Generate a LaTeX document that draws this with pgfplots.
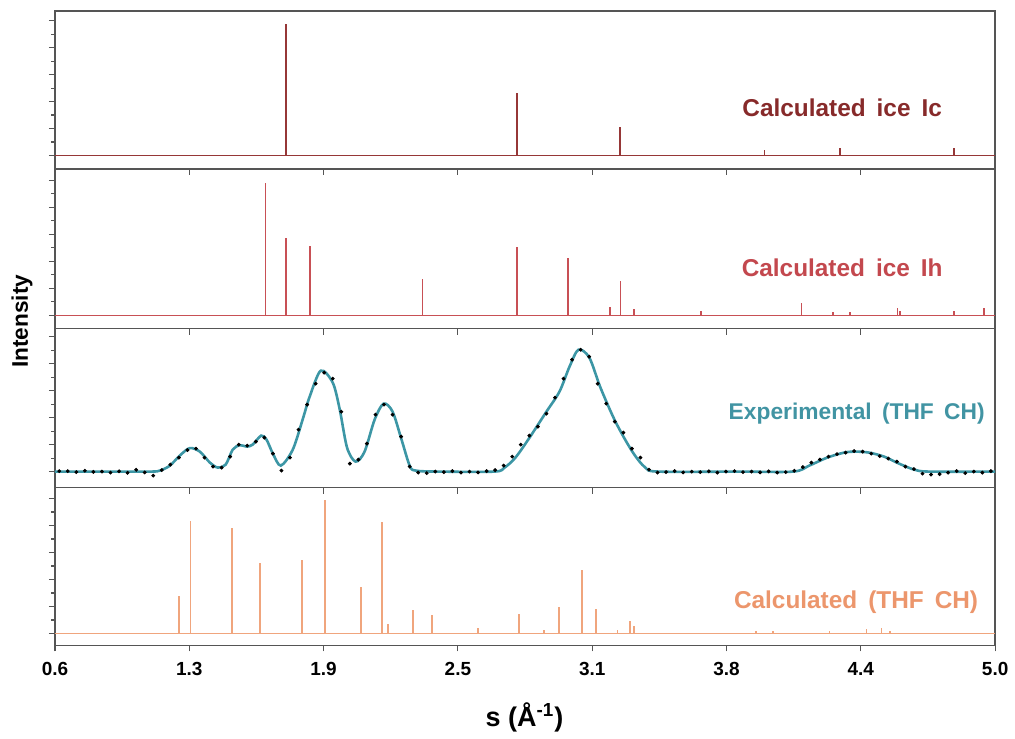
\documentclass[border=0pt]{standalone}
\usepackage{fontspec}
\setmainfont{Liberation Sans}
\usepackage{pgfplots}
\pgfplotsset{compat=1.18}
\definecolor{icline}{RGB}{150,55,55}
\definecolor{ictext}{RGB}{135,42,42}
\definecolor{ihline}{RGB}{200,80,85}
\definecolor{ihtext}{RGB}{195,72,78}
\definecolor{expline}{RGB}{60,150,165}
\definecolor{exptext}{RGB}{65,148,163}
\definecolor{calline}{RGB}{240,165,125}
\definecolor{caltext}{RGB}{236,150,108}
\definecolor{frame}{RGB}{85,85,85}
\newcommand\ws{\spaceskip=0.45em\relax}
\tikzset{lab/.style={font=\bfseries\fontsize{12.2}{13}\selectfont, anchor=center}}
\pgfplotsset{
  panel/.style={
    scale only axis, width=470.5pt, xmin=0.6, xmax=5.0,
    xtick={0.6,1.22857,1.85714,2.48571,3.11429,3.74286,4.37143,5.0},
    xticklabels={}, xtick pos=bottom, ytick pos=left, tick align=outside,
    ytick={0,27,54,81,108,135}, yticklabels={}, minor y tick num=1,
    major tick length=3pt, minor tick length=1.8pt,
    axis line style={draw=frame, line width=0.7pt},
    every tick/.append style={frame, line width=0.6pt},
    anchor=north west,
    /pgf/number format/assume math mode=true,
  },
}
\begin{document}
\begin{tikzpicture}
\path (-27.5pt,5.5pt) rectangle (480pt,-363.5pt);
% ---------- Panel 1: ice Ic
\begin{axis}[panel, at={(0pt,0pt)}, height=79pt, ymin=-13.3, ymax=144.7]
\addplot[icline, line width=0.6pt] coordinates {(0.6,0) (5.0,0)};
\addplot[icline, line width=0.9pt, ycomb, no marks] coordinates {
(1.682,131.7) (2.763,62.7) (3.246,29) (3.921,5.7) (4.275,7.7) (4.808,7.7)};
\node[lab, text=ictext] at (axis cs:4.284,47.7) {\ws Calculated ice Ic};
\end{axis}
% ---------- Panel 2: ice Ih
\begin{axis}[panel, at={(0pt,-79pt)}, height=80pt, ymin=-13.5, ymax=146.5]
\addplot[ihline, line width=0.6pt] coordinates {(0.6,0) (5.0,0)};
\addplot[ihline, line width=0.9pt, ycomb, no marks] coordinates {
(1.585,132.8) (1.683,76.8) (1.795,69.5) (2.320,36.2) (2.763,67.8) (3.002,57.2)
(3.196,8.2) (3.247,33.8) (3.310,6.2) (3.622,4.5) (4.094,12.2) (4.240,3.2)
(4.320,3.2) (4.543,7.2) (4.555,4) (4.807,3.8) (4.948,7.2)};
\node[lab, text=ihtext] at (axis cs:4.284,47.5) {\ws Calculated ice Ih};
\end{axis}
% ---------- Panel 3: experimental
\begin{axis}[panel, at={(0pt,-159pt)}, height=79.5pt, ymin=-16, ymax=143]
\addplot[expline, line width=1.3pt, smooth, tension=0.5] coordinates {
(0.600,0) (0.800,0) (1.044,0) (1.091,1) (1.138,6) (1.184,16) (1.231,23.5)
(1.278,20) (1.325,9) (1.362,4) (1.399,7) (1.432,22) (1.465,26.5) (1.497,25)
(1.525,27) (1.565,36) (1.590,32) (1.620,18) (1.657,6) (1.713,22) (1.759,52)
(1.792,75) (1.844,101) (1.900,89) (1.932,63) (1.967,24) (2.007,10) (2.049,20)
(2.096,52) (2.138,68) (2.180,60) (2.222,32) (2.260,6) (2.288,1) (2.400,0)
(2.657,0) (2.704,4) (2.755,14) (2.821,34) (2.900,60) (2.961,80) (3.008,105)
(3.050,122) (3.101,114) (3.153,84) (3.223,50) (3.302,20) (3.363,4) (3.424,0)
(3.800,0) (4.055,0) (4.130,6) (4.214,14) (4.293,19) (4.345,20) (4.410,19)
(4.480,15) (4.550,8) (4.621,2) (4.691,0) (5.000,0)};
\addplot[only marks, mark=*, mark size=0.75pt, black] coordinates {
(0.62,0.5) (0.66,0.5) (0.70,-0.5) (0.74,0.8) (0.78,-0.3) (0.82,0) (0.86,-1)
(0.90,0.3) (0.94,-1.2) (0.98,1.8) (1.02,-0.8) (1.06,-4) (1.10,1.5) (1.14,7)
(1.18,14) (1.22,21.5) (1.26,23) (1.30,14) (1.34,5) (1.38,4) (1.42,15)
(1.46,27) (1.50,26) (1.54,30) (1.58,34) (1.62,18) (1.66,1) (1.70,14)
(1.74,42) (1.78,67) (1.82,88) (1.86,99) (1.90,93) (1.94,60) (1.98,8)
(2.02,12) (2.06,28) (2.10,57) (2.14,67) (2.18,57) (2.22,35) (2.26,5)
(2.30,-1) (2.34,-1.5) (2.38,0) (2.42,-0.5) (2.46,0.5) (2.50,-1) (2.54,0)
(2.58,-0.8) (2.62,0.5) (2.66,1.5) (2.70,6) (2.74,15) (2.78,27) (2.82,36)
(2.86,45) (2.90,58) (2.94,74) (2.98,93) (3.02,112) (3.06,122) (3.10,115)
(3.14,88) (3.18,68) (3.22,50) (3.26,39) (3.30,23) (3.34,14) (3.38,2)
(3.42,-1) (3.46,-0.5) (3.50,0.5) (3.54,-0.8) (3.58,0) (3.62,-0.5) (3.66,0.3)
(3.70,-1) (3.74,0) (3.78,0.5) (3.82,-0.5) (3.86,0) (3.90,-0.8) (3.94,0.2)
(3.98,-1) (4.02,-0.5) (4.06,0.8) (4.10,4.5) (4.14,9) (4.18,12) (4.22,15)
(4.26,17.5) (4.30,19) (4.34,20.5) (4.38,20) (4.42,18) (4.46,15.5) (4.50,13)
(4.54,10) (4.58,5) (4.62,2.5) (4.66,-2) (4.70,-3) (4.74,-2.5) (4.78,-1)
(4.82,0.5) (4.86,-1.5) (4.90,0) (4.94,-1) (4.98,0.5)};
\node[lab, text=exptext, font=\bfseries\fontsize{11.4}{13}\selectfont] at (axis cs:4.352,58) {\ws Experimental (THF CH)};
\end{axis}
% ---------- Panel 4: calculated THF CH
\begin{axis}[panel, at={(0pt,-238.5pt)}, height=79pt, ymin=-12, ymax=146,
  xticklabels={0.6,1.3,1.9,2.5,3.1,3.8,4.4,5.0}, minor x tick num=1,
  xticklabel style={font=\bfseries\fontsize{9.5}{10}\selectfont, yshift=-2pt}]
\addplot[calline, line width=0.6pt] coordinates {(0.6,0) (5.0,0)};
\addplot[calline, line width=0.9pt, ycomb, no marks] coordinates {
(1.181,37.3) (1.234,112.3) (1.429,105.7) (1.558,70.7) (1.758,74) (1.864,133.3)
(2.033,46.3) (2.129,111.7) (2.159,9) (2.277,23) (2.366,18.3) (2.578,5.7)
(2.773,19) (2.888,3.3) (2.959,26.3) (3.067,63.3) (3.132,24) (3.233,3.3)
(3.290,12.3) (3.310,7.3) (3.881,2.3) (3.961,2) (4.225,2) (4.398,4)
(4.468,5) (4.508,2.5)};
\node[lab, text=caltext] at (axis cs:4.349,31) {\ws Calculated (THF CH)};
\end{axis}
% ---------- shared labels
\node[font=\bfseries\fontsize{11.3}{12}\selectfont, rotate=90] at (-16.5pt,-155.25pt) {Intensity};
\node[font=\bfseries\fontsize{13.5}{14}\selectfont] at (235pt,-353.5pt) {s (Å\textsuperscript{-1})};
\end{tikzpicture}
\end{document}
